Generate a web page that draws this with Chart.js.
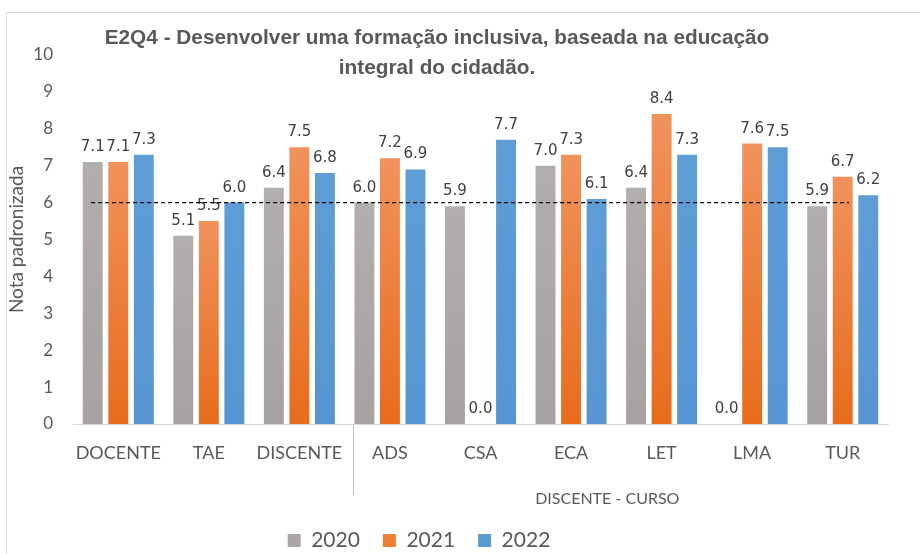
<!DOCTYPE html>
<html>
<head>
<meta charset="utf-8">
<script src="https://cdn.jsdelivr.net/npm/chart.js@4.4.1/dist/chart.umd.min.js"></script>
<style>
  html, body { margin: 0; padding: 0; background: #fff; }
  #frame { position: absolute; left: 6px; top: 12px; width: 940px; height: 560px; border: 1px solid #d9d9d9; }
  #wrap { position: absolute; left: 0; top: 0; width: 920px; height: 554px; }
</style>
</head>
<body>
<div id="frame"></div>
<div id="wrap"><canvas id="barChart" width="920" height="554"></canvas></div>
<script>
// --- data ---
const categories = ['DOCENTE', 'TAE', 'DISCENTE', 'ADS', 'CSA', 'ECA', 'LET', 'LMA', 'TUR'];
const values2020 = [7.1, 5.1, 6.4, 6.0, 5.9, 7.0, 6.4, 0.0, 5.9];
const values2021 = [7.1, 5.5, 7.5, 7.2, 0.0, 7.3, 8.4, 7.6, 6.7];
const values2022 = [7.3, 6.0, 6.8, 6.9, 7.7, 6.1, 7.3, 7.5, 6.2];
const seriesLabels = ['2020', '2021', '2022'];
const referenceValue = 6;
const groupLabel = 'DISCENTE - CURSO';
const groupFirst = 3, groupLast = 8;
const titleLines = ['E2Q4 - Desenvolver uma formação inclusiva, baseada na educação', 'integral do cidadão.'];

// top / bottom colours of each bar gradient, and legend swatch colour
const palette = [
    { top: '#b1aead', bottom: '#a6a2a1', solid: '#a9a6a5' },
    { top: '#f1925c', bottom: '#e76c1c', solid: '#f07f35' },
    { top: '#5e9dd6', bottom: '#5795d2', solid: '#5b9bd5' }
];

const barGradient = (idx) => (context) => {
    const chart = context.chart;
    const c = palette[idx];
    const yScale = chart.scales.y;
    if (!chart.chartArea || !yScale || context.parsed == null) return c.solid;
    const yTop = yScale.getPixelForValue(context.parsed.y);
    const yBottom = yScale.getPixelForValue(0);
    if (!isFinite(yTop) || Math.abs(yBottom - yTop) < 1) return c.solid;
    const g = chart.ctx.createLinearGradient(0, yTop, 0, yBottom);
    g.addColorStop(0, c.top);
    g.addColorStop(1, c.bottom);
    return g;
};

// value labels above every bar
const valueLabels = {
    id: 'valueLabels',
    afterDatasetsDraw(chart) {
        const { ctx } = chart;
        ctx.save();
        ctx.font = '15px "DejaVu Sans"';
        ctx.fillStyle = '#404040';
        ctx.textAlign = 'center';
        ctx.textBaseline = 'alphabetic';
        chart.data.datasets.forEach((ds, i) => {
            chart.getDatasetMeta(i).data.forEach((bar, j) => {
                ctx.fillText(ds.data[j].toFixed(1), bar.x, bar.y - 11);
            });
        });
        ctx.restore();
    }
};

// dashed reference line, group label, separator and title
const extras = {
    id: 'extras',
    afterInit(chart) {
        const fit = chart.legend.fit;
        chart.legend.fit = function () {
            fit.call(this);
            this.height = 47;
        };
    },
    afterLayout(chart) {
        // legend sits a little left of centre in the original
        chart.legend.left -= 25;
        chart.legend.right -= 25;
    },
    afterDatasetsDraw(chart) {
        const { ctx, scales: { x, y } } = chart;
        ctx.save();
        const yRef = y.getPixelForValue(referenceValue);
        ctx.strokeStyle = '#000';
        ctx.lineWidth = 1.3;
        ctx.setLineDash([4, 3]);
        ctx.beginPath();
        ctx.moveTo(x.getPixelForValue(-0.3), yRef);
        ctx.lineTo(x.getPixelForValue(groupLast + 0.07), yRef);
        ctx.stroke();
        ctx.restore();
    },
    afterDraw(chart) {
        const { ctx, scales: { x }, chartArea } = chart;
        ctx.save();
        // separator between the overall groups and the course group
        const sepX = Math.round(x.getPixelForValue(groupFirst - 0.41)) + 0.5;
        ctx.strokeStyle = '#bfbfbf';
        ctx.lineWidth = 1;
        ctx.beginPath();
        ctx.moveTo(sepX, chartArea.bottom);
        ctx.lineTo(sepX, chartArea.bottom + 71);
        ctx.stroke();

        ctx.font = '16px Lato';
        ctx.fillStyle = '#595959';
        ctx.textAlign = 'center';
        ctx.textBaseline = 'middle';
        const gx = x.getPixelForValue((groupFirst + groupLast) / 2 - 0.1);
        ctx.fillText(groupLabel, gx, chartArea.bottom + 75);

        ctx.font = 'bold 20.8px "Liberation Sans"';
        ctx.textBaseline = 'alphabetic';
        titleLines.forEach((line, i) => ctx.fillText(line, 437, 44 + i * 30));
        ctx.restore();
    }
};

const ctxBar = document.getElementById('barChart').getContext('2d');
window.barChart = new Chart(ctxBar, {
    type: 'bar',
    data: {
        labels: categories,
        datasets: [values2020, values2021, values2022].map((vals, i) => ({
            label: seriesLabels[i],
            data: vals,
            backgroundColor: barGradient(i),
            borderWidth: 0,
            categoryPercentage: 0.846,
            barPercentage: 0.78
        }))
    },
    options: {
        responsive: false,
        animation: false,
        layout: { padding: { top: 55, right: 32, bottom: 0, left: 0 } },
        plugins: {
            title: { display: false },
            tooltip: { enabled: false },
            legend: {
                position: 'bottom',
                labels: {
                    boxWidth: 13,
                    boxHeight: 13,
                    padding: 23,
                    color: '#595959',
                    font: { family: 'Lato', size: 21 },
                    generateLabels: (chart) => chart.data.datasets.map((ds, i) => ({
                        text: ds.label,
                        fillStyle: palette[i].solid,
                        strokeStyle: palette[i].solid,
                        lineWidth: 0,
                        fontColor: '#595959',
                        datasetIndex: i
                    }))
                }
            }
        },
        scales: {
            x: {
                grid: { display: false, drawTicks: false },
                border: { color: '#d9d9d9' },
                ticks: {
                    color: '#595959',
                    padding: 18,
                    maxRotation: 0,
                    autoSkip: false,
                    font: { family: 'Lato', size: 18 }
                },
                afterFit: (scale) => { scale.height = 83; }
            },
            y: {
                min: 0,
                max: 10,
                grid: { display: false, drawTicks: false },
                border: { display: false },
                ticks: {
                    stepSize: 1,
                    color: '#595959',
                    padding: 20,
                    font: { family: 'Lato', size: 17 }
                },
                title: {
                    display: true,
                    text: 'Nota padronizada',
                    color: '#595959',
                    padding: { top: 5, bottom: 0 },
                    font: { family: 'Lato', size: 19 }
                },
                afterFit: (scale) => { scale.width = 73; }
            }
        }
    },
    plugins: [valueLabels, extras]
});
</script>
</body>
</html>
